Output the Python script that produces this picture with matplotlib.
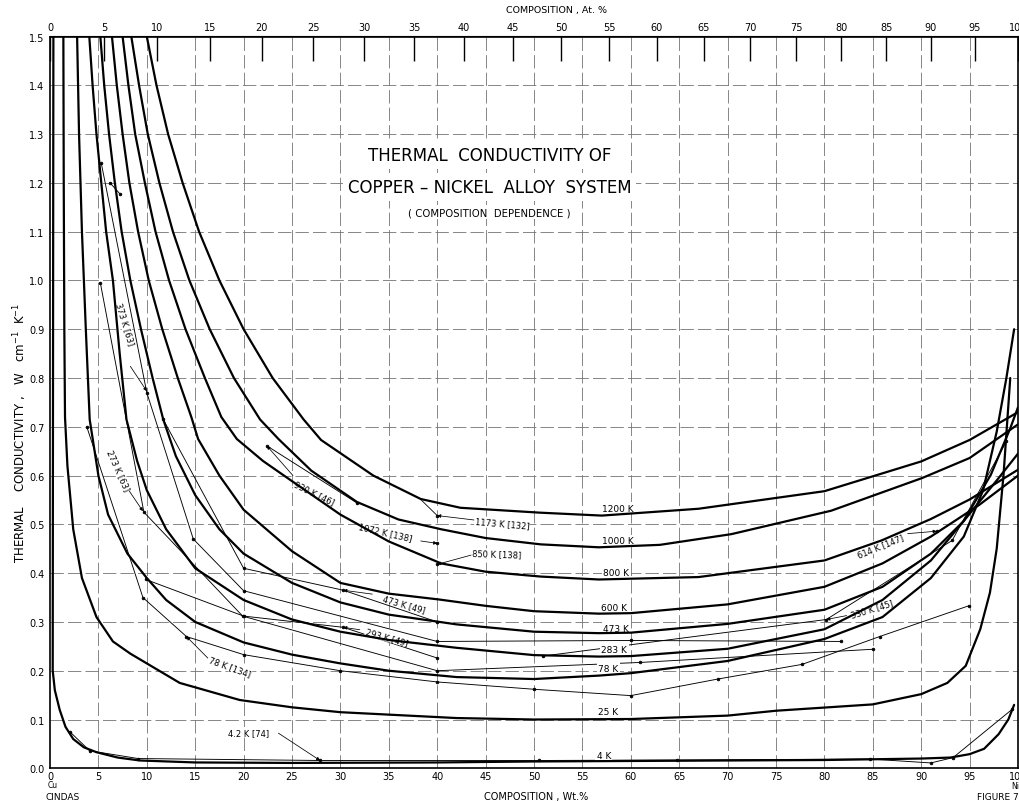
import matplotlib
matplotlib.use("Agg")
import matplotlib.pyplot as plt
import numpy as np

# ---------------- data (composition in wt.% Ni, conductivity W cm^-1 K^-1) -------------
x_ticks_wt = [0, 5, 10, 15, 20, 25, 30, 35, 40, 45, 50, 55, 60, 65, 70, 75, 80, 85, 90, 95, 100]
x_ticks_at = [0, 5, 10, 15, 20, 25, 30, 35, 40, 45, 50, 55, 60, 65, 70, 75, 80, 85, 90, 95, 100]
y_ticks = [0.0, 0.1, 0.2, 0.3, 0.4, 0.5, 0.6, 0.7, 0.8, 0.9, 1.0, 1.1, 1.2, 1.3, 1.4, 1.5]

# recommended curves (thick)
c1200_w = [10, 11, 12.2, 13.7, 15.4, 17.5, 20, 23, 26.2, 28, 33.4, 38.3, 42.4, 50.6, 57, 67, 80, 90, 95, 100]
c1200_v = [1.5, 1.4, 1.3, 1.2, 1.1, 1.0, 0.9, 0.8, 0.715, 0.673, 0.6, 0.552, 0.534, 0.524, 0.518, 0.532, 0.568, 0.629, 0.673, 0.73]
c1000_w = [8.4, 9.2, 10.1, 11.3, 12.7, 14.4, 16.5, 19, 21.7, 23.6, 27, 31.7, 36, 40.4, 45, 50.7, 56.7, 63, 70.4, 80.7, 90.1, 95, 100]
c1000_v = [1.5, 1.4, 1.3, 1.2, 1.1, 1.0, 0.9, 0.8, 0.715, 0.675, 0.61, 0.546, 0.51, 0.49, 0.472, 0.459, 0.453, 0.458, 0.48, 0.528, 0.595, 0.636, 0.705]
c800_w = [7.5, 8.1, 8.8, 9.8, 10.9, 12.3, 14, 16, 17.7, 19.3, 22, 24.9, 30, 35, 40.4, 45, 50.7, 56.7, 67, 80, 85.9, 91, 95, 100]
c800_v = [1.5, 1.4, 1.3, 1.2, 1.1, 1.0, 0.9, 0.8, 0.72, 0.675, 0.63, 0.59, 0.52, 0.465, 0.42, 0.403, 0.393, 0.387, 0.392, 0.426, 0.467, 0.511, 0.551, 0.612]
c600_w = [6.4, 6.9, 7.5, 8.2, 9.1, 10.2, 11.6, 13.2, 14.6, 15.3, 17.5, 20, 25, 30, 35, 40.2, 45, 50, 56.7, 60, 70, 80, 86, 91, 96, 100]
c600_v = [1.5, 1.4, 1.3, 1.2, 1.1, 1.0, 0.9, 0.8, 0.72, 0.675, 0.6, 0.53, 0.445, 0.38, 0.358, 0.346, 0.333, 0.322, 0.317, 0.318, 0.336, 0.372, 0.42, 0.475, 0.54, 0.6]
c473_w = [5.2, 5.6, 6.1, 6.7, 7.4, 8.3, 9.4, 10.6, 11.7, 13, 15, 17.5, 20, 25, 30, 35, 42, 50, 56.7, 60, 70, 80, 86, 91, 94.4, 97.8, 100]
c473_v = [1.5, 1.4, 1.3, 1.2, 1.1, 1.0, 0.9, 0.8, 0.715, 0.64, 0.56, 0.49, 0.44, 0.38, 0.34, 0.315, 0.295, 0.28, 0.277, 0.278, 0.296, 0.325, 0.372, 0.44, 0.507, 0.59, 0.645]
c283_w = [4.06, 4.4, 4.8, 5.3, 5.8, 6.5, 7.2, 7.9, 9, 10, 12, 15, 20, 25, 30, 35, 42, 50, 56.7, 60, 70, 80, 86, 91, 94.4, 97.2, 99.2, 100]
c283_v = [1.5, 1.4, 1.3, 1.2, 1.1, 1.0, 0.85, 0.715, 0.63, 0.57, 0.49, 0.41, 0.345, 0.305, 0.28, 0.263, 0.247, 0.232, 0.229, 0.23, 0.245, 0.285, 0.345, 0.426, 0.507, 0.602, 0.697, 0.74]
c78_w = [2.8, 3.0, 3.3, 3.7, 4.1, 5, 6, 8, 10, 12, 15, 20, 25, 30, 35, 42, 50, 56.7, 60, 70, 80, 86, 91, 94.4, 96.4, 97.8, 98.8, 99.6]
c78_v = [1.5, 1.3, 1.1, 0.9, 0.715, 0.6, 0.52, 0.44, 0.39, 0.345, 0.3, 0.258, 0.233, 0.215, 0.2, 0.187, 0.183, 0.19, 0.195, 0.22, 0.265, 0.31, 0.39, 0.475, 0.57, 0.69, 0.8, 0.9]
c25_w = [1.38, 1.42, 1.48, 1.55, 1.8, 2.4, 3.3, 4.8, 6.5, 8.3, 10, 13.4, 19.6, 25, 30, 42, 50, 60, 70, 75, 85, 90, 92.7, 94.6, 96.1, 97.1, 97.8, 98.5, 99.2]
c25_v = [1.5, 1.2, 0.9, 0.72, 0.62, 0.49, 0.39, 0.31, 0.26, 0.235, 0.215, 0.175, 0.14, 0.125, 0.115, 0.103, 0.1, 0.101, 0.108, 0.118, 0.131, 0.152, 0.175, 0.21, 0.285, 0.36, 0.45, 0.6, 0.8]
c4_w = [0.35, 0.3, 0.28, 0.5, 1.0, 1.6, 2.4, 3.5, 4.8, 7, 9.3, 15, 25, 40, 50, 60, 70, 80, 90, 93, 95, 96.5, 98, 99, 99.6]
c4_v = [1.5, 0.6, 0.2, 0.16, 0.12, 0.085, 0.06, 0.043, 0.033, 0.022, 0.016, 0.012, 0.011, 0.012, 0.014, 0.015, 0.016, 0.017, 0.02, 0.022, 0.029, 0.04, 0.07, 0.1, 0.13]
curve_names = ["1200 K", "1000 K", "800 K", "600 K", "473 K", "283 K", "78 K", "25 K", "4 K"]

# experimental data sets (thin lines with points)
d373_63_w = [5.3, 10, 14.8, 20, 40, 60, 81.7]
d373_63_v = [1.24, 0.77, 0.47, 0.364, 0.26, 0.262, 0.26]
d373_63b_w = [6.2, 7.2]
d373_63b_v = [1.2, 1.178]
d273_63_w = [5.2, 9.7, 19.9, 40, 61, 85]
d273_63_v = [0.995, 0.525, 0.312, 0.2, 0.217, 0.244]
d78_134_w = [3.8, 9.6, 14.1, 20, 30, 40, 50, 60, 69, 77.7, 85.7, 94.9]
d78_134_v = [0.70, 0.35, 0.27, 0.233, 0.2, 0.177, 0.162, 0.149, 0.183, 0.213, 0.27, 0.333]
d4_74_w = [2.1, 4.1, 9.1, 27.9, 50.5, 64.8, 84.7, 91, 93.3, 99.4]
d4_74_v = [0.074, 0.036, 0.02, 0.016, 0.016, 0.017, 0.019, 0.011, 0.022, 0.121]
d930_46_w = [22.4, 31.7]
d930_46_v = [0.661, 0.544]
d1072_138_w = [40]
d1072_138_v = [0.461]
d1173_132_w = [40]
d1173_132_v = [0.518]
d850_138_w = [40]
d850_138_v = [0.418]
d473_49_w = [11.7, 20, 30.3, 40]
d473_49_v = [0.715, 0.41, 0.365, 0.3]
d293_49_w = [9.9, 20, 30.3, 40]
d293_49_v = [0.387, 0.312, 0.289, 0.226]
d614_147_w = [91.6]
d614_147_v = [0.486]
d330_45_w = [50.9, 80.2, 93.2, 98.8]
d330_45_v = [0.23, 0.305, 0.467, 0.67]

# ---------------- figure ----------------
W, H = 1019, 803
plt.rcParams["font.family"] = ["DejaVu Sans"]
fig = plt.figure(figsize=(W / 100, H / 100), dpi=100)
fig.patch.set_facecolor("white")
ax = fig.add_axes([50 / W, 1 - 769.3 / H, (1018 - 50) / W, (769.3 - 37.5) / H])
ax.set_xlim(0, 100)
ax.set_ylim(0, 1.5)

# grid
GRID = dict(color="0.45", lw=0.6, ls=(0, (16, 5)), zorder=1)
for xv in x_ticks_wt[1:-1]:
    ax.axvline(xv, **GRID)
for yv in y_ticks[1:-1]:
    ax.axhline(yv, **GRID)

thick = [(c1200_w, c1200_v), (c1000_w, c1000_v), (c800_w, c800_v), (c600_w, c600_v),
         (c473_w, c473_v), (c283_w, c283_v), (c78_w, c78_v), (c25_w, c25_v), (c4_w, c4_v)]
for w, v in thick:
    ax.plot(w, v, color="black", lw=1.6, solid_capstyle="round", solid_joinstyle="round", zorder=4)

thin = [(d373_63_w, d373_63_v), (d373_63b_w, d373_63b_v), (d273_63_w, d273_63_v),
        (d78_134_w, d78_134_v), (d4_74_w, d4_74_v), (d930_46_w, d930_46_v),
        (d1072_138_w, d1072_138_v), (d1173_132_w, d1173_132_v), (d850_138_w, d850_138_v),
        (d473_49_w, d473_49_v), (d293_49_w, d293_49_v), (d614_147_w, d614_147_v),
        (d330_45_w, d330_45_v)]
for w, v in thin:
    ax.plot(w, v, color="black", lw=0.65, marker="o", ms=2.0, mfc="black", mew=0.5, zorder=3)

# curve labels (thick)
curve_label_pos = [(58.7, 0.533), (58.7, 0.467), (58.5, 0.402), (58.3, 0.330), (58.5, 0.287),
                   (58.3, 0.243), (57.7, 0.205), (57.7, 0.116), (57.2, 0.026)]
for name, (lx, ly) in zip(curve_names, curve_label_pos):
    ax.text(lx, ly, name, fontsize=6.5, ha="center", va="center", zorder=3.5,
            bbox=dict(boxstyle="square,pad=0.15", fc="white", ec="none"))

# data-set labels with leader lines: text, text pos, rotation, leader start, leader end
ds_labels = [
    ("373 K [63]", (7.75, 0.912), -73, (8.3, 0.824), (10.0, 0.773)),
    ("273 K [63]", (7.06, 0.611), -66, (8.2, 0.568), (9.6, 0.527)),
    ("78 K [134]", (18.6, 0.208), -20, (16.3, 0.226), (14.1, 0.270)),
    ("4.2 K [74]", (20.5, 0.074), 0, (23.6, 0.072), (27.9, 0.016)),
    ("930 K [46]", (27.3, 0.566), -26, (25.1, 0.600), (22.4, 0.661)),
    ("1072 K [138]", (34.6, 0.484), -13, (38.3, 0.466), (40.0, 0.461)),
    ("1173 K [132]", (46.7, 0.503), -5, (43.8, 0.509), (40.0, 0.518)),
    ("850 K [138]", (46.2, 0.440), -2, (43.5, 0.437), (40.0, 0.418)),
    ("473 K [49]", (36.6, 0.338), -16, (33.3, 0.357), (30.3, 0.365)),
    ("293 K [49]", (34.8, 0.270), -16, (32.0, 0.284), (30.3, 0.289)),
    ("614 K [147]", (85.8, 0.456), 22, (88.6, 0.481), (91.6, 0.486)),
    ("330 K [45]", (84.9, 0.327), 17, (82.3, 0.313), (80.2, 0.305)),
]
for txt, (tx, ty), rot, (sx, sy), (ex, ey) in ds_labels:
    ax.text(tx, ty, txt, fontsize=6, rotation=rot, ha="center", va="center",
            rotation_mode="anchor", zorder=3.5,
            bbox=dict(boxstyle="square,pad=0.05", fc="white", ec="none"))
    ax.annotate("", xy=(ex, ey), xytext=(sx, sy),
                arrowprops=dict(arrowstyle="-|>", lw=0.55, color="black",
                                mutation_scale=5, shrinkA=0, shrinkB=0), zorder=5)

# extra leader segment (1173 K)
ax.plot([38.3, 40.0], [0.551, 0.518], color="black", lw=0.6, zorder=3)

# title
TB = dict(boxstyle="square,pad=0.3", fc="white", ec="none")
ax.text(45.4, 1.257, "THERMAL  CONDUCTIVITY OF", fontsize=12, ha="center", va="center", zorder=6, bbox=TB)
ax.text(45.4, 1.192, "COPPER \u2013 NICKEL  ALLOY  SYSTEM", fontsize=12, ha="center", va="center", zorder=6, bbox=TB)
ax.text(45.4, 1.140, "( COMPOSITION  DEPENDENCE )", fontsize=7.3, ha="center", va="center", zorder=6,
        bbox=dict(boxstyle="square,pad=0.2", fc="white", ec="none"))

# axes / ticks
ax.set_xticks(x_ticks_wt)
ax.set_xticklabels([str(t) for t in x_ticks_wt], fontsize=7)
ax.set_yticks(y_ticks)
ax.set_yticklabels(["%.1f" % t for t in y_ticks], fontsize=7)
ax.tick_params(axis="x", length=0, pad=2)
ax.tick_params(axis="y", length=0, pad=4)
for s in ax.spines.values():
    s.set_linewidth(1.2)
    s.set_color("black")

R = 1.12
def wt_to_at(w):
    w = np.asarray(w, dtype=float)
    return 100 * w / (w + R * (100 - w))
def at_to_wt(a):
    a = np.asarray(a, dtype=float)
    return 100 * a * R / (a * R + 100 - a)

sec = ax.secondary_xaxis("top", functions=(wt_to_at, at_to_wt))
sec.set_xticks(x_ticks_at)
sec.set_xticklabels([str(t) for t in x_ticks_at], fontsize=7)
sec.tick_params(direction="in", length=18, width=1.0, pad=3)

fig.text(556 / W, 1 - 11 / H, "COMPOSITION , At. %", fontsize=6.8, ha="center", va="center")
fig.text(536 / W, 1 - 797 / H, "COMPOSITION , Wt.%", fontsize=7, ha="center", va="center")
fig.text(20 / W, 1 - 433 / H, "THERMAL    CONDUCTIVITY ,   W   cm$^{-1}$  K$^{-1}$", fontsize=8.5,
         rotation=90, ha="center", va="center")
fig.text(48 / W, 1 - 786 / H, "Cu", fontsize=5.5, ha="left", va="center")
fig.text(46 / W, 1 - 798 / H, "CINDAS", fontsize=6.5, ha="left", va="center")
fig.text(1011 / W, 1 - 787 / H, "Ni", fontsize=5.5, ha="left", va="center")
fig.text(977 / W, 1 - 798 / H, "FIGURE 7", fontsize=6.5, ha="left", va="center")

fig.savefig("out.png", dpi=100, facecolor="white")
